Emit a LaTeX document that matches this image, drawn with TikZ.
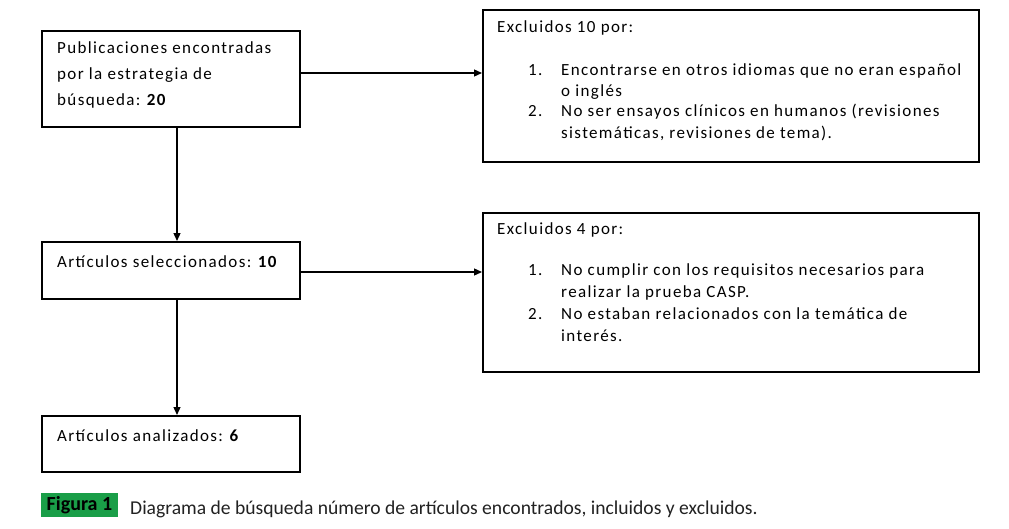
\documentclass[tikz,border=0pt]{standalone}
\usepackage{fontspec}
\setmainfont{Carlito}
\newfontfamily\boxfont[LetterSpace=8]{Carlito}
\usetikzlibrary{arrows.meta}
\definecolor{figgreen}{HTML}{1A9E48}
\definecolor{captext}{HTML}{222222}
\tikzset{
  box/.style={draw=black, line width=2pt, minimum width=258pt, inner sep=0pt},
  bigbox/.style={draw=black, line width=2pt, minimum width=496pt, inner sep=0pt},
  txt/.style={anchor=base west, inner sep=0pt, font=\boxfont\fontsize{17}{20}\selectfont, text=black},
  arr/.style={line width=1.3pt, -{Triangle[length=8pt,width=7pt]}},
}
\begin{document}
\begin{tikzpicture}[x=1pt,y=-1pt]
\useasboundingbox[fill=white] (0,0) rectangle (1009,528);
% boxes
\node[box, minimum height=96pt] (b1) at (171,79) {};
\node[bigbox, minimum height=152pt] (e1) at (731,86) {};
\node[box, minimum height=57pt] (b2) at (171,270.5) {};
\node[bigbox, minimum height=159pt] (e2) at (731,292.5) {};
\node[box, minimum height=56pt] (b3) at (171,444) {};
% texts box 1
\node[txt] (t11) at (57,53) {Publicaciones encontradas};
\node[txt] (t12) at (57,79) {por la estrategia de};
\node[txt] (t13) at (57,105) {búsqueda:\hspace{0.3em}\textbf{20}};
% excl 1
\node[txt] (t21) at (497,32) {Excluidos 10 por:};
\node[txt] (n21) at (528,75) {1.};
\node[txt] (t22) at (561,75) {Encontrarse en otros idiomas que no eran español};
\node[txt] (t23) at (561,96) {o inglés};
\node[txt] (n22) at (528,116) {2.};
\node[txt] (t24) at (561,116) {No ser ensayos clínicos en humanos (revisiones};
\node[txt] (t25) at (561,138) {sistemáticas, revisiones de tema).};
% box 2
\node[txt] (t31) at (57,267) {Artículos seleccionados:\hspace{0.3em}\textbf{10}};
% excl 2
\node[txt] (t41) at (497,234) {Excluidos 4 por:};
\node[txt] (n41) at (528,275) {1.};
\node[txt] (t42) at (561,275) {No cumplir con los requisitos necesarios para};
\node[txt] (t43) at (561,297) {realizar la prueba CASP.};
\node[txt] (n42) at (528,319) {2.};
\node[txt] (t44) at (561,319) {No estaban relacionados con la temática de};
\node[txt] (t45) at (561,341) {interés.};
% box 3
\node[txt] (t51) at (57,441) {Artículos analizados:\hspace{0.3em}\textbf{6}};
% connectors
\draw[arr] (b1.east |- 0,73) -- (e1.west |- 0,73);
\draw[arr] (b1.south -| 177,0) -- (b2.north -| 177,0);
\draw[arr] (b2.east |- 0,272) -- (e2.west |- 0,272);
\draw[arr] (b2.south -| 177,0) -- (b3.north -| 177,0);
% caption
\node[fill=figgreen, minimum width=77pt, minimum height=24pt, inner sep=0pt,
  font=\fontsize{20}{22}\selectfont\bfseries, text=black] (fig) at (79.5,505) {Figura 1};
\node[anchor=base west, inner sep=0pt, font=\fontsize{19.6}{22}\selectfont, text=captext]
  (cap) at (130,514) {Diagrama de búsqueda número de artículos encontrados, incluidos y excluidos.};
\end{tikzpicture}
\end{document}
